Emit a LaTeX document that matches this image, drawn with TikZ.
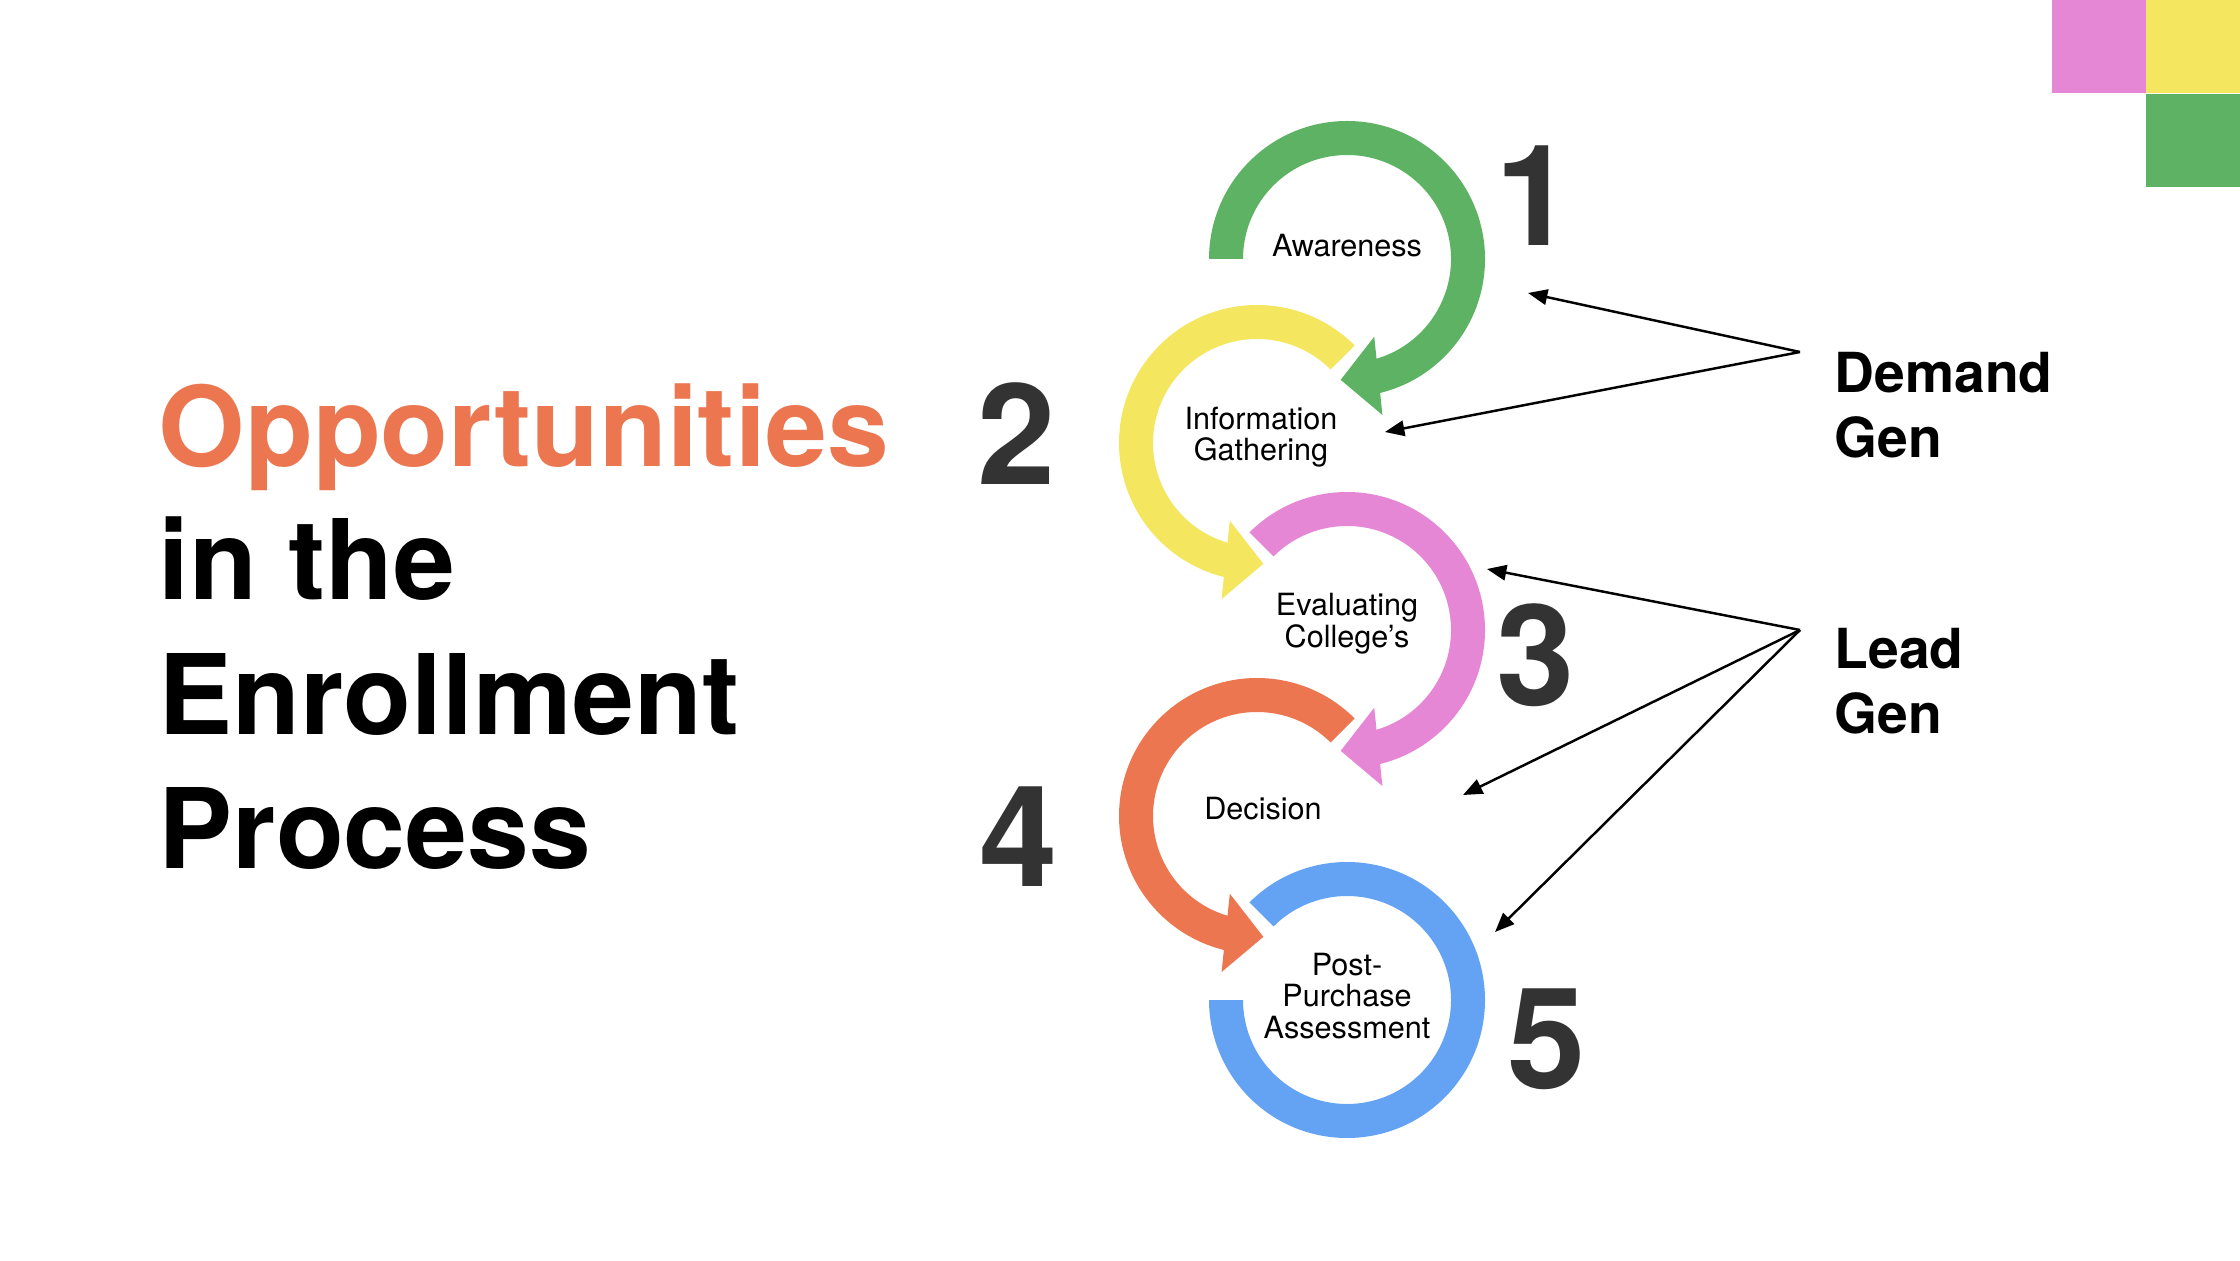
\documentclass[tikz,border=0pt]{standalone}
\usepackage{fontspec}
\setmainfont{TeX Gyre Heros}
\usetikzlibrary{arrows.meta,calc}

\definecolor{ringgreen}{RGB}{93,178,99}
\definecolor{ringyellow}{RGB}{244,230,95}
\definecolor{ringpink}{RGB}{230,135,214}
\definecolor{ringorange}{RGB}{236,118,80}
\definecolor{ringblue}{RGB}{100,162,244}
\definecolor{numgray}{RGB}{51,51,51}

% ring with arrow head: centre, colour, start, body end, head base, head tip
\newcommand{\ringarrow}[6]{%
  \fill[#2] ($(#1)+(#3:138)$) arc[start angle=#3,end angle=#4,radius=138]
    -- ($(#1)+(#4:104)$) arc[start angle=#4,end angle=#3,radius=104] -- cycle;
  \coordinate (#1-base) at ($(#1)+(#5:121)$);
  \coordinate (#1-tip) at ($(#1)+(#6:121)$);
  \fill[#2] ($(#1-base)!1.04!90:(#1-tip)$) -- (#1-tip) -- ($(#1-base)!1.04!-90:(#1-tip)$) -- cycle;
}

\begin{document}
\begin{tikzpicture}[x=0.01cm,y=0.01cm,
  lbl/.style={font=\fontsize{8.7}{9}\selectfont,align=center,inner sep=0pt},
  bignum/.style={font=\fontsize{40}{40}\selectfont\bfseries,text=numgray,inner sep=0pt},
  headline/.style={font=\fontsize{31.6}{38}\selectfont\bfseries,anchor=base west,inner sep=0pt},
  genlbl/.style={font=\fontsize{15.7}{18.5}\selectfont\bfseries,align=left,anchor=west,inner sep=0pt},
  pointer/.style={-{Triangle[length=5.5pt,width=4.4pt]},line width=0.7pt}]
\fill[white] (0,0) rectangle (2240,1260);
\useasboundingbox (0,0) rectangle (2240,1260);

% corner squares
\foreach \cx/\cy/\cc in {2052/1167/ringpink,2146/1167/ringyellow,2146/1073/ringgreen}
  \fill[\cc] (\cx,\cy) rectangle ++(94,93);

% title
\node[headline,text=ringorange] (t1) at (158,793) {Opportunities};
\node[headline] (t2) at (158,660) {in the};
\node[headline] (t3) at (158,526) {Enrollment};
\node[headline] (t4) at (158,392) {Process};

% ring centres
\coordinate (cAware) at (1347,1001);
\coordinate (cInfo) at (1257,817);
\coordinate (cEval) at (1347,630);
\coordinate (cDec) at (1257,444);
\coordinate (cPost) at (1347,260);

\ringarrow{cAware}{ringgreen}{180}{-80}{-75}{-93}
\ringarrow{cInfo}{ringyellow}{45}{260}{255}{273}
\ringarrow{cEval}{ringpink}{135}{-80}{-75}{-93}
\ringarrow{cDec}{ringorange}{45}{260}{255}{273}
\fill[ringblue] ($(cPost)+(135:138)$) arc[start angle=135,end angle=-180,radius=138]
  -- ($(cPost)+(-180:104)$) arc[start angle=-180,end angle=135,radius=104] -- cycle;

\node[lbl] (aware) at (1347,1014) {Awareness};
\node[lbl] (info) at (1261,823) {Information\\Gathering};
\node[lbl] (eval) at (1347,636) {Evaluating\\College’s};
\node[lbl] (dec) at (1263,451) {Decision};
\node[lbl] (post) at (1347,264) {Post-\\Purchase\\Assessment};

% step numbers
\foreach \n/\x/\y in {1/1535/1064,2/1017/826,3/1536/605,4/1019/423,5/1547/221}
  \node[bignum] (num\n) at (\x,\y) {\n};

% side labels and pointers
\node[genlbl] (demand) at (1834,855) {Demand\\Gen};
\node[genlbl] (lead) at (1834,579) {Lead\\Gen};
\coordinate (dsrc) at (1800,908);
\coordinate (dA) at (1528,967);
\coordinate (dB) at (1385,828);
\coordinate (lsrc) at (1800,630);
\coordinate (lA) at (1487,691);
\coordinate (lB) at (1463,465);
\coordinate (lC) at (1495,328);
\foreach \t in {dA,dB} \draw[pointer] (dsrc) -- (\t);
\foreach \t in {lA,lB,lC} \draw[pointer] (lsrc) -- (\t);
\end{tikzpicture}
\end{document}
